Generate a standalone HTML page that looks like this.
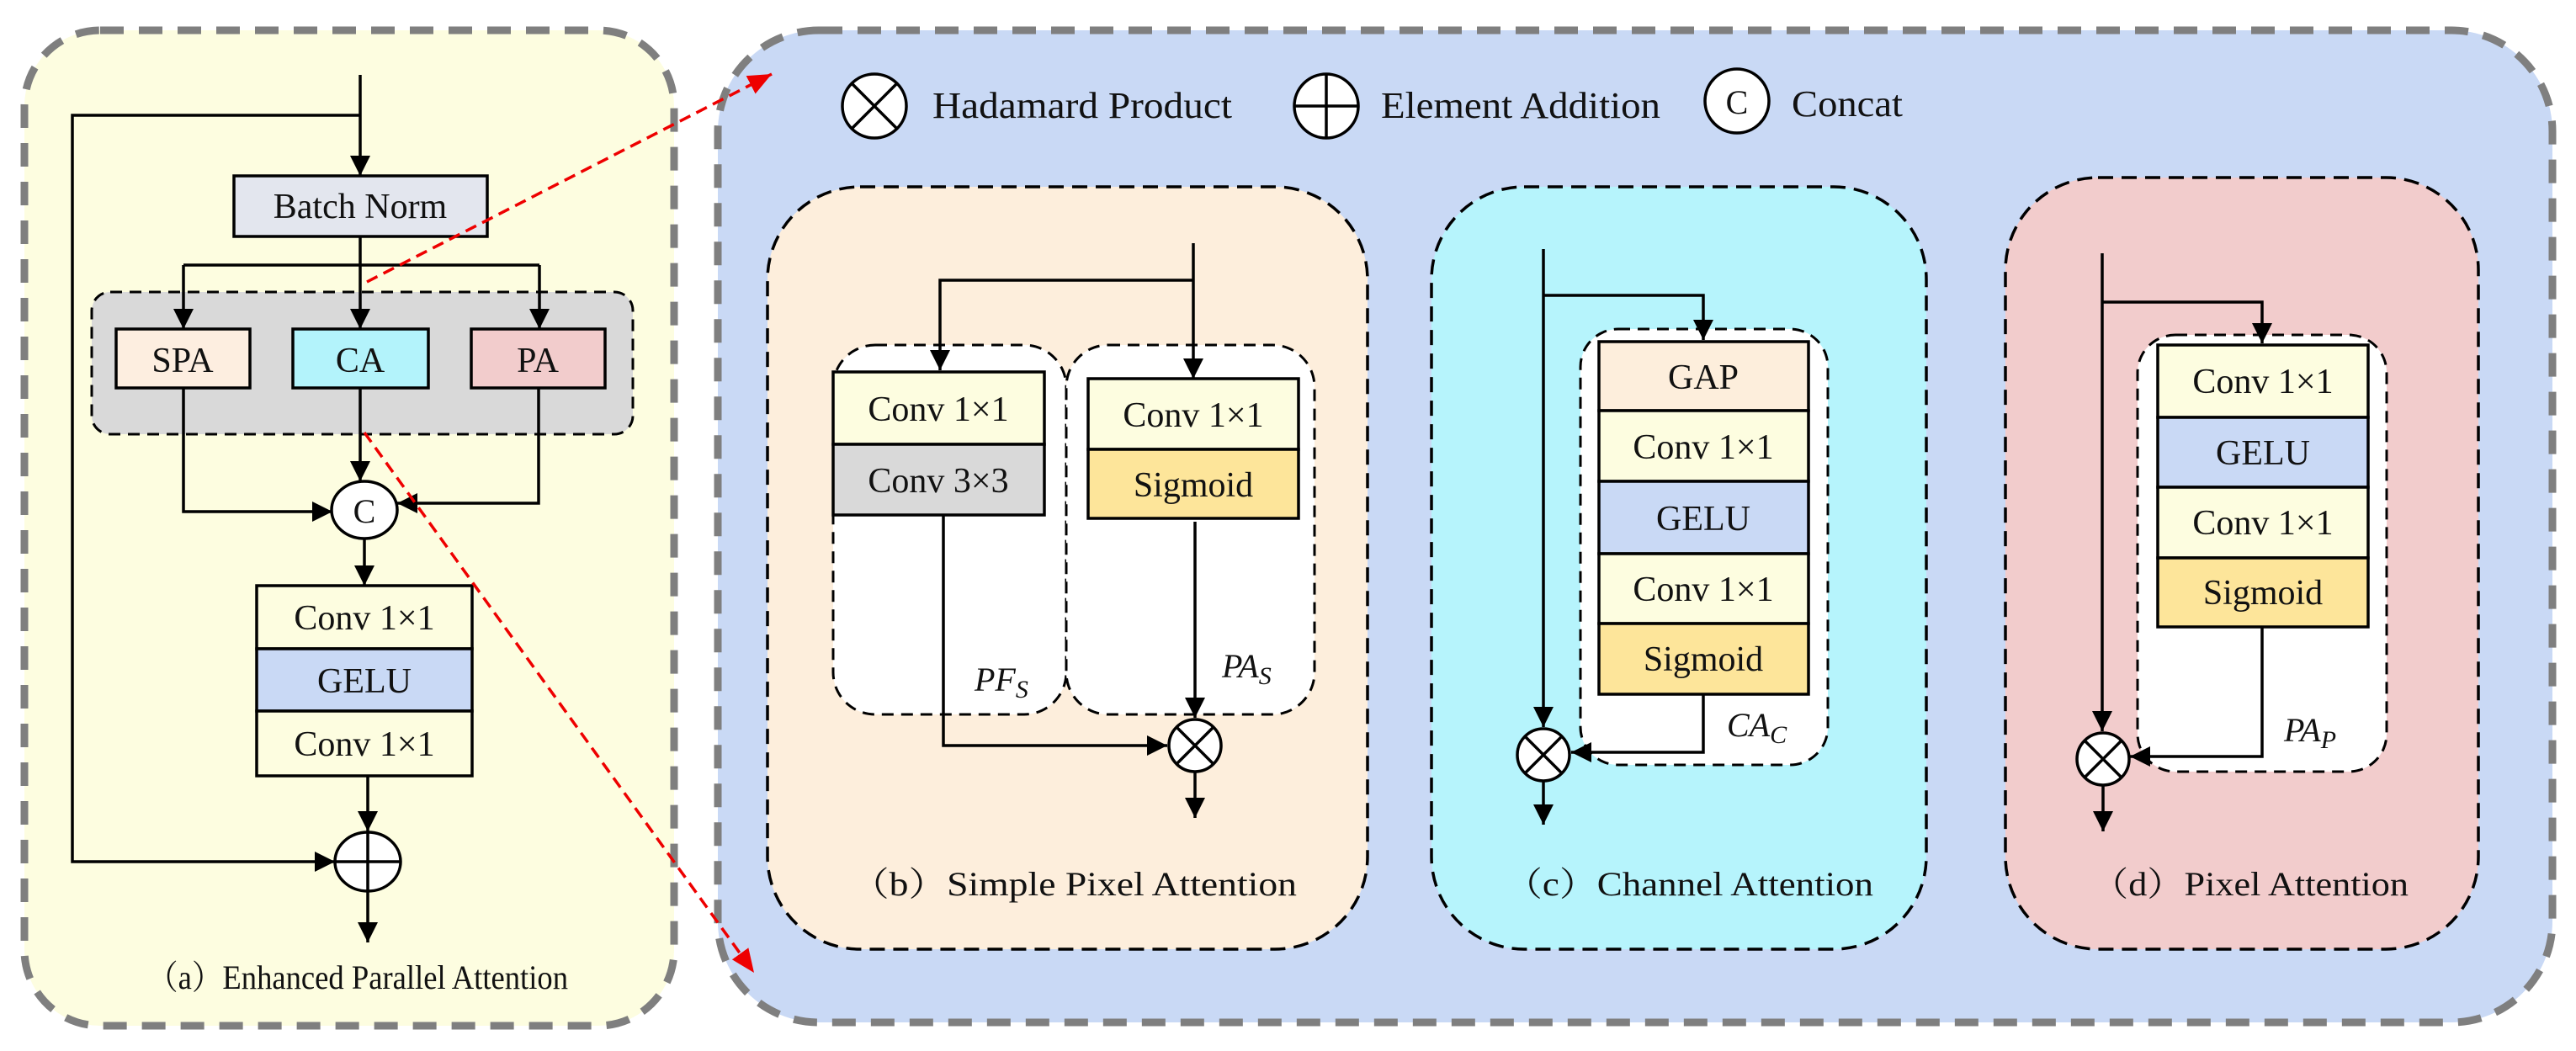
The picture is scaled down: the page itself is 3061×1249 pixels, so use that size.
<!DOCTYPE html>
<html><head><meta charset="utf-8"><style>
html,body{margin:0;padding:0;background:#fff;}
svg{display:block;}
text{font-family:"Liberation Serif","Times New Roman","DejaVu Serif","Noto Serif CJK SC",serif;fill:#111;}
</style></head><body>
<svg width="3061" height="1249" viewBox="0 0 3061 1249" xmlns="http://www.w3.org/2000/svg" font-family="Liberation Serif, Noto Serif CJK SC, serif">
<defs>
<marker id="ar" markerUnits="userSpaceOnUse" markerWidth="26" markerHeight="26" refX="24" refY="12" orient="auto">
<path d="M0,0 L24,12 L0,24 z" fill="#000"/></marker>
<marker id="rr" markerUnits="userSpaceOnUse" markerWidth="30" markerHeight="30" refX="28" refY="12" orient="auto">
<path d="M0,0 L28,12 L0,24 z" fill="#e00"/></marker>
</defs>

<rect x="29" y="36" width="772" height="1183" rx="90" fill="#fdfde0" stroke="#7f7f7f" stroke-width="9" stroke-dasharray="28 18"/>
<rect x="853" y="36" width="2180" height="1179" rx="120" fill="#c9d9f5" stroke="#7f7f7f" stroke-width="9" stroke-dasharray="28 18"/>

<g stroke="#000" stroke-width="3.5" fill="none">
<line x1="428" y1="89" x2="428" y2="209" marker-end="url(#ar)"/>
<polyline points="428,137 86,137 86,1024 398,1024" marker-end="url(#ar)"/>
</g>
<rect x="278" y="209" width="301" height="72" fill="#e3e6ee" stroke="#000" stroke-width="3.5"/>
<text x="428" y="259" font-size="42" text-anchor="middle">Batch Norm</text>
<rect x="109" y="347" width="643" height="169" rx="22" fill="#d9d9d9" stroke="#000" stroke-width="3" stroke-dasharray="14 9"/>
<g stroke="#000" stroke-width="3.5" fill="none">
<line x1="428" y1="281" x2="428" y2="391" marker-end="url(#ar)"/>
<polyline points="218,315 641,315" />
<line x1="218" y1="315" x2="218" y2="391" marker-end="url(#ar)"/>
<line x1="641" y1="315" x2="641" y2="391" marker-end="url(#ar)"/>
</g>
<rect x="138" y="391" width="159" height="70" fill="#fdeee0" stroke="#000" stroke-width="3.5"/>
<text x="217" y="442" font-size="42" text-anchor="middle">SPA</text>
<rect x="348" y="391" width="161" height="70" fill="#b3f3fb" stroke="#000" stroke-width="3.5"/>
<text x="428" y="442" font-size="42" text-anchor="middle">CA</text>
<rect x="560" y="391" width="159" height="70" fill="#f2cccc" stroke="#000" stroke-width="3.5"/>
<text x="639" y="442" font-size="42" text-anchor="middle">PA</text>
<g stroke="#000" stroke-width="3.5" fill="none">
<polyline points="218,461 218,608 395,608" marker-end="url(#ar)"/>
<line x1="428" y1="461" x2="428" y2="572" marker-end="url(#ar)"/>
<polyline points="640,461 640,598 472,598" marker-end="url(#ar)"/>
<line x1="433" y1="640" x2="433" y2="696" marker-end="url(#ar)"/>
</g>
<ellipse cx="433" cy="606" rx="39" ry="34" fill="#fff" stroke="#000" stroke-width="3.5"/>
<text x="433" y="621" font-size="40" text-anchor="middle">C</text>
<rect x="305" y="696" width="256" height="75" fill="#fdfde0" stroke="#000" stroke-width="3.5"/>
<rect x="305" y="771" width="256" height="74" fill="#c9d9f5" stroke="#000" stroke-width="3.5"/>
<rect x="305" y="845" width="256" height="77" fill="#fdfde0" stroke="#000" stroke-width="3.5"/>
<text x="433" y="748" font-size="42" text-anchor="middle">Conv 1×1</text>
<text x="433" y="823" font-size="42" text-anchor="middle">GELU</text>
<text x="433" y="898" font-size="42" text-anchor="middle">Conv 1×1</text>
<g stroke="#000" stroke-width="3.5" fill="none">
<line x1="437" y1="922" x2="437" y2="988" marker-end="url(#ar)"/>
<ellipse cx="437" cy="1024" rx="39" ry="35" fill="#fff"/>
<line x1="398" y1="1024" x2="476" y2="1024"/>
<line x1="437" y1="989" x2="437" y2="1120" marker-end="url(#ar)"/>
</g>
<text x="425" y="1175" font-size="40" text-anchor="middle" textLength="500" lengthAdjust="spacingAndGlyphs">（a）Enhanced Parallel Attention</text>

<g stroke="#e00" stroke-width="3.5" fill="none" stroke-dasharray="14 8">
<line x1="436" y1="335" x2="917" y2="88" marker-end="url(#rr)"/>
<line x1="433" y1="514" x2="896" y2="1156" marker-end="url(#rr)"/>
</g>

<g stroke="#000" stroke-width="3.5" fill="#fff">
<circle cx="1039" cy="126" r="38"/>
<line x1="1012" y1="99" x2="1066" y2="153"/><line x1="1066" y1="99" x2="1012" y2="153"/>
<circle cx="1576" cy="126" r="38"/>
<line x1="1538" y1="126" x2="1614" y2="126"/><line x1="1576" y1="88" x2="1576" y2="164"/>
<circle cx="2064" cy="120" r="38"/>
</g>
<text x="2064" y="135" font-size="40" text-anchor="middle">C</text>
<text x="1108" y="140" font-size="44" textLength="356" lengthAdjust="spacingAndGlyphs">Hadamard Product</text>
<text x="1641" y="140" font-size="44" textLength="332" lengthAdjust="spacingAndGlyphs">Element Addition</text>
<text x="2129" y="138" font-size="44" textLength="132" lengthAdjust="spacingAndGlyphs">Concat</text>

<rect x="912" y="222" width="713" height="906" rx="110" fill="#fdeedc" stroke="#000" stroke-width="3.5" stroke-dasharray="18 10"/>
<rect x="990" y="410" width="277" height="439" rx="50" fill="#fff" stroke="#000" stroke-width="3" stroke-dasharray="14 9"/>
<rect x="1267" y="410" width="295" height="439" rx="50" fill="#fff" stroke="#000" stroke-width="3" stroke-dasharray="14 9"/>
<g stroke="#000" stroke-width="3.5" fill="none">
<line x1="1418" y1="289" x2="1418" y2="450" marker-end="url(#ar)"/>
<polyline points="1418,333 1117,333 1117,440" marker-end="url(#ar)"/>
</g>
<rect x="990" y="442" width="251" height="86" fill="#fdfde0" stroke="#000" stroke-width="3.5"/>
<rect x="990" y="528" width="251" height="84" fill="#d9d9d9" stroke="#000" stroke-width="3.5"/>
<text x="1115" y="500" font-size="42" text-anchor="middle">Conv 1×1</text>
<text x="1115" y="585" font-size="42" text-anchor="middle">Conv 3×3</text>
<rect x="1293" y="450" width="250" height="84" fill="#fdfde0" stroke="#000" stroke-width="3.5"/>
<rect x="1293" y="534" width="250" height="82" fill="#fde59a" stroke="#000" stroke-width="3.5"/>
<text x="1418" y="507" font-size="42" text-anchor="middle">Conv 1×1</text>
<text x="1418" y="590" font-size="42" text-anchor="middle">Sigmoid</text>
<g stroke="#000" stroke-width="3.5" fill="none">
<polyline points="1121,612 1121,886 1387,886" marker-end="url(#ar)"/>
<line x1="1420" y1="620" x2="1420" y2="853" marker-end="url(#ar)"/>
<circle cx="1420" cy="886" r="31" fill="#fff"/>
<line x1="1398" y1="864" x2="1442" y2="908"/><line x1="1442" y1="864" x2="1398" y2="908"/>
<line x1="1420" y1="917" x2="1420" y2="972" marker-end="url(#ar)"/>
</g>
<text x="1158" y="821" font-size="40" font-style="italic">PF<tspan font-size="30" dy="8">S</tspan></text>
<text x="1452" y="805" font-size="40" font-style="italic">PA<tspan font-size="30" dy="8">S</tspan></text>
<text x="1011" y="1064" font-size="40" textLength="530" lengthAdjust="spacingAndGlyphs">（b）Simple Pixel Attention</text>

<rect x="1701" y="222" width="588" height="906" rx="110" fill="#b6f4fc" stroke="#000" stroke-width="3.5" stroke-dasharray="18 10"/>
<rect x="1878" y="391" width="294" height="518" rx="45" fill="#fff" stroke="#000" stroke-width="3" stroke-dasharray="14 9"/>
<g stroke="#000" stroke-width="3.5" fill="none">
<line x1="1834" y1="296" x2="1834" y2="864" marker-end="url(#ar)"/>
<polyline points="1834,351 2024,351 2024,404" marker-end="url(#ar)"/>
</g>
<rect x="1900" y="406" width="249" height="82" fill="#fdeedc" stroke="#000" stroke-width="3.5"/>
<rect x="1900" y="488" width="249" height="84" fill="#fdfde0" stroke="#000" stroke-width="3.5"/>
<rect x="1900" y="572" width="249" height="86" fill="#c9d9f5" stroke="#000" stroke-width="3.5"/>
<rect x="1900" y="658" width="249" height="83" fill="#fdfde0" stroke="#000" stroke-width="3.5"/>
<rect x="1900" y="741" width="249" height="84" fill="#fde59a" stroke="#000" stroke-width="3.5"/>
<text x="2024" y="462" font-size="42" text-anchor="middle">GAP</text>
<text x="2024" y="545" font-size="42" text-anchor="middle">Conv 1×1</text>
<text x="2024" y="630" font-size="42" text-anchor="middle">GELU</text>
<text x="2024" y="714" font-size="42" text-anchor="middle">Conv 1×1</text>
<text x="2024" y="797" font-size="42" text-anchor="middle">Sigmoid</text>
<g stroke="#000" stroke-width="3.5" fill="none">
<polyline points="2024,825 2024,894 1867,894" marker-end="url(#ar)"/>
<circle cx="1834" cy="897" r="31" fill="#fff"/>
<line x1="1812" y1="875" x2="1856" y2="919"/><line x1="1856" y1="875" x2="1812" y2="919"/>
<line x1="1834" y1="928" x2="1834" y2="980" marker-end="url(#ar)"/>
</g>
<text x="2052" y="875" font-size="40" font-style="italic">CA<tspan font-size="30" dy="8">C</tspan></text>
<text x="1788" y="1064" font-size="40" textLength="438" lengthAdjust="spacingAndGlyphs">（c）Channel Attention</text>

<rect x="2383" y="211" width="562" height="917" rx="110" fill="#f2cccc" stroke="#000" stroke-width="3.5" stroke-dasharray="18 10"/>
<rect x="2540" y="398" width="296" height="519" rx="45" fill="#fff" stroke="#000" stroke-width="3" stroke-dasharray="14 9"/>
<g stroke="#000" stroke-width="3.5" fill="none">
<line x1="2498" y1="301" x2="2498" y2="869" marker-end="url(#ar)"/>
<polyline points="2498,359 2688,359 2688,408" marker-end="url(#ar)"/>
</g>
<rect x="2564" y="410" width="250" height="86" fill="#fdfde0" stroke="#000" stroke-width="3.5"/>
<rect x="2564" y="496" width="250" height="83" fill="#c9d9f5" stroke="#000" stroke-width="3.5"/>
<rect x="2564" y="579" width="250" height="84" fill="#fdfde0" stroke="#000" stroke-width="3.5"/>
<rect x="2564" y="663" width="250" height="82" fill="#fde59a" stroke="#000" stroke-width="3.5"/>
<text x="2689" y="467" font-size="42" text-anchor="middle">Conv 1×1</text>
<text x="2689" y="552" font-size="42" text-anchor="middle">GELU</text>
<text x="2689" y="635" font-size="42" text-anchor="middle">Conv 1×1</text>
<text x="2689" y="718" font-size="42" text-anchor="middle">Sigmoid</text>
<g stroke="#000" stroke-width="3.5" fill="none">
<polyline points="2688,745 2688,899 2531,899" marker-end="url(#ar)"/>
<circle cx="2499" cy="902" r="31" fill="#fff"/>
<line x1="2477" y1="880" x2="2521" y2="924"/><line x1="2521" y1="880" x2="2477" y2="924"/>
<line x1="2499" y1="933" x2="2499" y2="988" marker-end="url(#ar)"/>
</g>
<text x="2714" y="881" font-size="40" font-style="italic">PA<tspan font-size="30" dy="8">P</tspan></text>
<text x="2485" y="1064" font-size="40" textLength="377" lengthAdjust="spacingAndGlyphs">（d）Pixel Attention</text>
</svg>
</body></html>
